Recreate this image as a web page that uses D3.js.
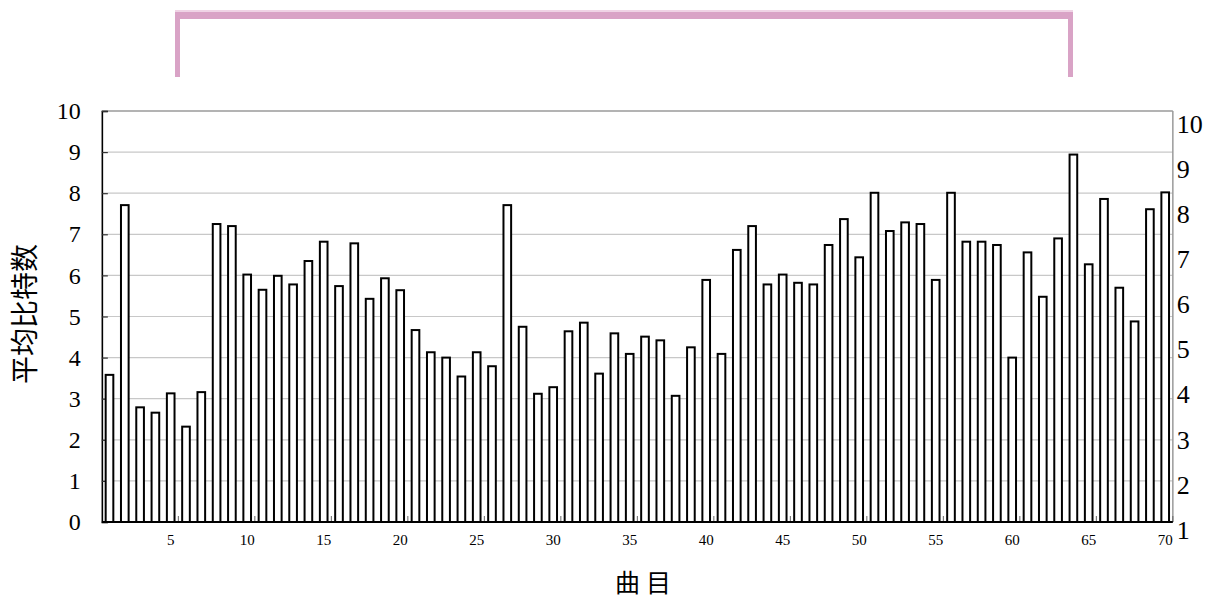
<!DOCTYPE html>
<html><head><meta charset="utf-8">
<script src="https://cdn.jsdelivr.net/npm/d3@7/dist/d3.min.js"></script>
<style>html,body{margin:0;padding:0;background:#fff;}svg{display:block;}
.serif{font-family:"Liberation Serif","Times New Roman",serif;}
.cjk{font-family:"Noto Sans CJK SC","Noto Sans",sans-serif;}
</style>
</head><body>
<script>
const songs = d3.range(1, 71);
const avgBits = [3.58,7.71,2.79,2.66,3.13,2.32,3.16,7.25,7.20,6.02,
5.65,5.99,5.78,6.35,6.82,5.74,6.78,5.43,5.93,5.64,
4.67,4.13,4.00,3.54,4.13,3.79,7.71,4.75,3.12,3.28,
4.64,4.85,3.61,4.59,4.09,4.51,4.42,3.07,4.25,5.89,
4.09,6.62,7.20,5.78,6.02,5.82,5.78,6.74,7.37,6.44,
8.01,7.08,7.29,7.25,5.89,8.01,6.82,6.82,6.74,4.00,
6.56,5.48,6.90,8.94,6.27,7.86,5.70,4.88,7.61,8.02];
const leftTicks = [0,1,2,3,4,5,6,7,8,9,10];
const rightTicks = [1,2,3,4,5,6,7,8,9,10];
const xTickLabels = [5,10,15,20,25,30,35,40,45,50,55,60,65,70];
const yTitle = "平均比特数";
const xTitle = "曲目";

const W = 1208, H = 599;
const L = 101.85, R = 1172.85, T = 111, B = 522;
const svg = d3.select("body").append("svg").attr("width", W).attr("height", H);

const x = d3.scaleBand().domain(songs).range([L, R]).paddingInner(0.5).paddingOuter(0.25);
const y = d3.scaleLinear().domain([0, 10]).range([B, T]);
const y2 = d3.scaleLinear().domain([1, 10]).range([530, 124]);

// pink bracket
const pink = "#d9a3c6";
svg.append("rect").attr("x", 175).attr("y", 10).attr("width", 898).attr("height", 3).attr("fill", "#efd3e5");
svg.append("rect").attr("x", 175).attr("y", 12).attr("width", 898).attr("height", 7).attr("fill", pink);
svg.append("rect").attr("x", 175).attr("y", 12).attr("width", 5).attr("height", 65).attr("fill", pink);
svg.append("rect").attr("x", 1068).attr("y", 12).attr("width", 5).attr("height", 65).attr("fill", pink);

// gridlines
svg.append("g").selectAll("line").data(leftTicks.filter(d => d > 0 && d < 10)).join("line")
  .attr("x1", L).attr("x2", R).attr("y1", d => y(d)).attr("y2", d => y(d))
  .attr("stroke", "#c8c8c8").attr("stroke-width", 1.2);
// frame top/right
svg.append("line").attr("x1", L).attr("x2", R).attr("y1", T).attr("y2", T).attr("stroke", "#9a9a9a").attr("stroke-width", 1.5);
svg.append("line").attr("x1", R).attr("x2", R).attr("y1", T).attr("y2", B).attr("stroke", "#9a9a9a").attr("stroke-width", 1.5);

// left axis
const la = svg.append("g").attr("transform", `translate(${L},0)`)
  .call(d3.axisLeft(y).tickValues(leftTicks).tickSize(-6).tickPadding(21).tickFormat(d3.format("d")));
la.attr("font-family", null).attr("font-size", null);
la.select(".domain").attr("stroke", "#000").attr("stroke-width", 1.6);
la.selectAll(".tick line").attr("stroke", "#333").attr("stroke-width", 1.2);
la.selectAll("text").attr("class", "serif").style("font-size", "24px").attr("fill", "#000");

// right axis labels
const ra = svg.append("g").attr("transform", `translate(${R},0)`)
  .call(d3.axisRight(y2).tickValues(rightTicks).tickSize(0).tickPadding(4).tickFormat(d3.format("d")));
ra.attr("font-family", null).attr("font-size", null);
ra.select(".domain").remove();
ra.selectAll("text").attr("class", "serif").style("font-size", "26px").attr("fill", "#000");

// bars
svg.append("g").selectAll("rect").data(avgBits).join("rect")
  .attr("x", (d, i) => x(songs[i]))
  .attr("y", d => y(d))
  .attr("width", x.bandwidth())
  .attr("height", d => B - y(d))
  .attr("fill", "#fff").attr("stroke", "#000").attr("stroke-width", 2);

// x tick marks every 5 (category boundaries)
const step = x.step();
svg.append("g").selectAll("line").data(xTickLabels).join("line")
  .attr("x1", d => L + d * step).attr("x2", d => L + d * step)
  .attr("y1", B).attr("y2", B - 6).attr("stroke", "#666").attr("stroke-width", 1);

// x axis baseline
svg.append("line").attr("x1", L).attr("x2", R).attr("y1", B).attr("y2", B).attr("stroke", "#000").attr("stroke-width", 2.2);

// x tick labels
svg.append("g").selectAll("text").data(xTickLabels).join("text")
  .attr("class", "serif")
  .attr("x", d => x(d) + x.bandwidth() / 2).attr("y", 545)
  .attr("text-anchor", "middle").style("font-size", "15px")
  .text(d => d);

// x title
svg.append("text").attr("class", "cjk").attr("x", 646).attr("y", 592).attr("text-anchor", "middle")
  .style("font-size", "25px").attr("letter-spacing", 6)
  .text(xTitle);

// y title
svg.append("text").attr("class", "cjk").attr("transform", "translate(35,384) rotate(-90)")
  .attr("text-anchor", "start").style("font-size", "28px")
  .text(yTitle);
</script>
</body></html>
